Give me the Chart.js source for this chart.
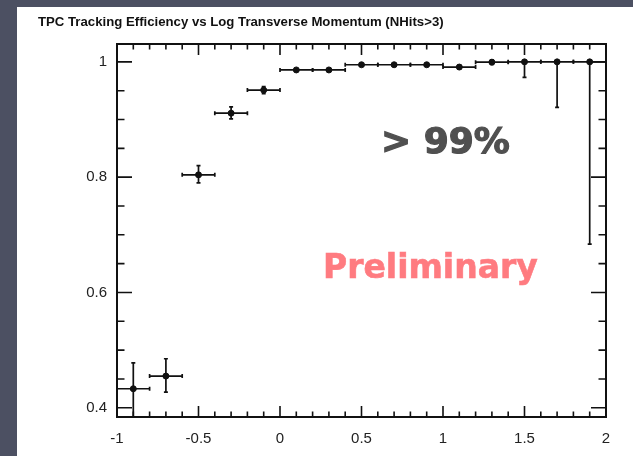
<!DOCTYPE html>
<html>
<head>
<meta charset="utf-8">
<script src="https://cdn.jsdelivr.net/npm/chart.js@4.4.1/dist/chart.umd.min.js"></script>
<style>
  html, body { margin: 0; padding: 0; }
  body { width: 633px; height: 456px; background: #4c5062; position: relative; overflow: hidden; }
  .panel { position: absolute; left: 17px; top: 7px; right: 0; bottom: 0; background: #ffffff; }
  #chart { position: absolute; left: 0; top: 0; }
</style>
</head>
<body>
<div class="panel"></div>
<canvas id="chart" width="633" height="456"></canvas>
<script>
// Data: log10(pT) bin centres and tracking efficiency
const binCenters = [-0.9, -0.7, -0.5, -0.3, -0.1, 0.1, 0.3, 0.5, 0.7, 0.9, 1.1, 1.3, 1.5, 1.7, 1.9];
const efficiency = [0.433, 0.455, 0.804, 0.911, 0.951, 0.986, 0.986, 0.995, 0.995, 0.995, 0.991, 0.9995, 1.0, 1.0, 1.0];
const errLow = [0.06, 0.028, 0.014, 0.010, 0.006, 0.002, 0.002, 0.002, 0.002, 0.002, 0.003, 0.004, 0.027, 0.079, 0.316];
const errHigh = [0.045, 0.030, 0.016, 0.011, 0.006, 0.002, 0.002, 0.002, 0.002, 0.002, 0.003, 0.004, 0, 0, 0];
const binHalfWidth = 0.1;

const xTickValues = [-1, -0.5, 0, 0.5, 1, 1.5, 2];
const yTickValues = [0.4, 0.6, 0.8, 1];

const chartTitle = "TPC Tracking Efficiency vs Log Transverse Momentum (NHits>3)";
const noteText = "> 99%";
const stampText = "Preliminary";

const points = binCenters.map((x, i) => ({ x: x, y: efficiency[i] }));

// draws the frame, inward ticks, error bars and the text on top
const decorPlugin = {
  id: "decor",
  beforeDatasetsDraw(chart) {
    const ctx = chart.ctx;
    const xs = chart.scales.x;
    const ys = chart.scales.y;
    const area = chart.chartArea;
    ctx.save();
    ctx.beginPath();
    ctx.rect(area.left, area.top, area.right - area.left, area.bottom - area.top);
    ctx.clip();
    ctx.strokeStyle = "#111";
    ctx.lineWidth = 1.7;
    binCenters.forEach((x, i) => {
      const px = xs.getPixelForValue(x);
      const py = ys.getPixelForValue(efficiency[i]);
      const x0 = xs.getPixelForValue(x - binHalfWidth);
      const x1 = xs.getPixelForValue(x + binHalfWidth);
      const yTop = ys.getPixelForValue(efficiency[i] + errHigh[i]);
      const yBot = ys.getPixelForValue(efficiency[i] - errLow[i]);
      ctx.beginPath();
      // horizontal bar over the bin
      ctx.moveTo(x0, py); ctx.lineTo(x1, py);
      ctx.moveTo(x0, py - 2); ctx.lineTo(x0, py + 2);
      ctx.moveTo(x1, py - 2); ctx.lineTo(x1, py + 2);
      // vertical error
      ctx.moveTo(px, yTop); ctx.lineTo(px, yBot);
      if (errHigh[i] > 0) { ctx.moveTo(px - 2, yTop); ctx.lineTo(px + 2, yTop); }
      ctx.moveTo(px - 2, yBot); ctx.lineTo(px + 2, yBot);
      ctx.stroke();
    });
    ctx.restore();
  },
  afterDraw(chart) {
    const ctx = chart.ctx;
    const xs = chart.scales.x;
    const ys = chart.scales.y;
    const a = chart.chartArea;
    ctx.save();
    ctx.strokeStyle = "#111";
    ctx.lineWidth = 2;
    ctx.strokeRect(a.left, a.top, a.right - a.left, a.bottom - a.top);

    ctx.lineWidth = 1.6;
    ctx.beginPath();
    // x ticks every 0.1, major every 0.5
    for (let k = -10; k <= 20; k++) {
      const v = k / 10;
      const px = xs.getPixelForValue(v);
      const len = (k % 5 === 0) ? 11 : 5.5;
      ctx.moveTo(px, a.bottom); ctx.lineTo(px, a.bottom - len);
      ctx.moveTo(px, a.top); ctx.lineTo(px, a.top + len);
    }
    // y ticks every 0.05, major every 0.2
    for (let k = 8; k <= 20; k++) {
      const v = k * 0.05;
      const py = ys.getPixelForValue(v);
      const len = (k % 4 === 0) ? 15 : 7.5;
      ctx.moveTo(a.left, py); ctx.lineTo(a.left + len, py);
      ctx.moveTo(a.right, py); ctx.lineTo(a.right - len, py);
    }
    ctx.stroke();

    ctx.fillStyle = "#111";
    ctx.font = "bold 13.2px 'Liberation Sans', Arial, sans-serif";
    ctx.textAlign = "left";
    ctx.textBaseline = "alphabetic";
    ctx.fillText(chartTitle, 38, 26);

    ctx.fillStyle = "#505050";
    ctx.strokeStyle = "#505050";
    ctx.lineWidth = 1.2;
    ctx.font = "bold 36px 'DejaVu Sans', Verdana, sans-serif";
    ctx.fillText(noteText, 381, 153);
    ctx.strokeText(noteText, 381, 153);

    ctx.fillStyle = "#ff7b80";
    ctx.strokeStyle = "#ff7b80";
    ctx.lineWidth = 0.6;
    ctx.font = "bold 33px 'DejaVu Sans', Verdana, sans-serif";
    ctx.fillText(stampText, 323, 278);
    ctx.strokeText(stampText, 323, 278);
    ctx.restore();
  }
};

new Chart(document.getElementById("chart"), {
  type: "scatter",
  data: {
    datasets: [{
      data: points,
      backgroundColor: "#111",
      borderColor: "#111",
      pointRadius: 3,
      pointHoverRadius: 3
    }]
  },
  options: {
    responsive: false,
    animation: false,
    events: [],
    layout: { padding: { top: 44, right: 27, left: 0, bottom: 0 } },
    plugins: { legend: { display: false }, tooltip: { enabled: false } },
    scales: {
      x: {
        type: "linear",
        min: -1,
        max: 2,
        grid: { display: false, drawTicks: false },
        border: { display: false },
        afterBuildTicks: (scale) => { scale.ticks = xTickValues.map(v => ({ value: v })); },
        afterFit: (scale) => { scale.height = 39; },
        ticks: {
          padding: 13,
          maxRotation: 0,
          color: "#222",
          font: { family: "'Liberation Sans', Arial, sans-serif", size: 15 },
          callback: (v) => String(v)
        }
      },
      y: {
        type: "linear",
        min: 0.384,
        max: 1.031,
        grid: { display: false, drawTicks: false },
        border: { display: false },
        afterBuildTicks: (scale) => { scale.ticks = yTickValues.map(v => ({ value: v })); },
        afterFit: (scale) => { scale.width = 117; },
        ticks: {
          padding: 10,
          color: "#222",
          font: { family: "'Liberation Sans', Arial, sans-serif", size: 15 },
          callback: (v) => String(v)
        }
      }
    }
  },
  plugins: [decorPlugin]
});
</script>
</body>
</html>
